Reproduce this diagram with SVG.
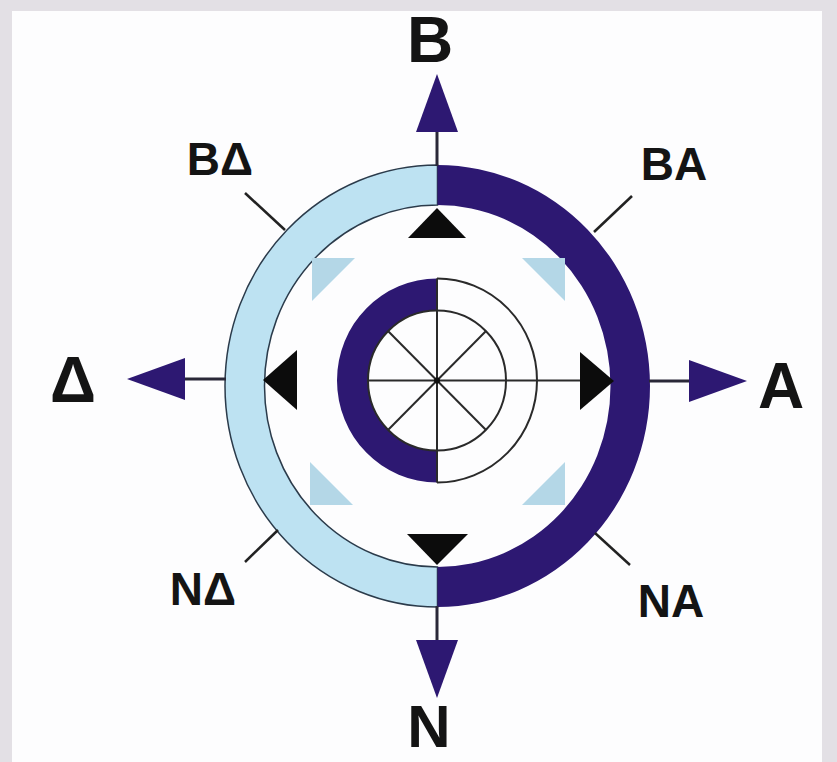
<svg xmlns="http://www.w3.org/2000/svg" width="837" height="762" viewBox="0 0 837 762">
<style>
.lbl{font-family:"Liberation Sans",Arial,sans-serif;font-weight:bold;fill:#141414;text-anchor:middle}
.big{font-size:64px}
.small{font-size:46px}
.thin{fill:none;stroke:#2a2a2a;stroke-width:2}
.axis{fill:none;stroke:#2a2838;stroke-width:3}
.tick{fill:none;stroke:#222;stroke-width:2.5}
.purple{fill:#2d1872}
.black{fill:#0c0c0c}
.pale{fill:#b4d7e7}
</style>
<defs>
<marker id="arr" viewBox="0 0 58 42" refX="0" refY="21" markerWidth="58" markerHeight="42" markerUnits="userSpaceOnUse" orient="auto">
<path d="M0,0 L58,21 L0,42 Z" fill="#2d1872"/>
</marker>
</defs>
<rect x="0" y="0" width="837" height="762" fill="#e3e0e5"/>
<rect x="12" y="11" width="810" height="751" fill="#fdfdfe"/>

<g id="outer-ring">
<path d="M437.5,165 A212.5 221 0 0 0 437.5,607 L437.5,567 A173 181 0 0 1 437.5,205 Z" fill="#bde2f2" stroke="#2b3b4b" stroke-width="1.5"/>
<path class="purple" d="M437.5,165 A212.5 221 0 0 1 437.5,607 L437.5,567 A173 181 0 0 0 437.5,205 Z"/>
</g>

<g id="inner-ring">
<path class="purple" d="M437,278.5 A100 102 0 0 0 437,482.5 L437,450.5 A69 70 0 0 1 437,310.5 Z"/>
<path class="thin" d="M437,278.5 A100 102 0 0 1 437,482.5"/>
<ellipse class="thin" cx="437" cy="380.5" rx="69" ry="70"/>
<line class="thin" x1="437" y1="278.5" x2="437" y2="482.5"/>
<line class="thin" x1="368" y1="380.5" x2="580" y2="380.5"/>
<line class="thin" x1="388" y1="331" x2="486" y2="430"/>
<line class="thin" x1="486" y1="331" x2="388" y2="430"/>
<circle cx="437" cy="380.5" r="3" fill="#111"/>
</g>

<g id="markers">
<polygon class="black" points="437,208 408,238 466,238"/>
<polygon class="black" points="437,565 407,534 468,534"/>
<polygon class="black" points="263,380 297,350 297,410"/>
<polygon class="black" points="614,381 580,352 580,410"/>
<polygon class="pale" points="312,258 355,258 312,301"/>
<polygon class="pale" points="522,258 565,258 565,301"/>
<polygon class="pale" points="310,462 310,505 353,505"/>
<polygon class="pale" points="565,462 565,505 522,505"/>
</g>

<g id="connectors">
<line class="axis" x1="437" y1="166" x2="437" y2="132" marker-end="url(#arr)"/>
<line class="axis" x1="437" y1="606" x2="437" y2="640" marker-end="url(#arr)"/>
<line class="axis" x1="226" y1="379" x2="185" y2="379" marker-end="url(#arr)"/>
<line class="axis" x1="649" y1="381" x2="689" y2="381" marker-end="url(#arr)"/>
<line class="tick" x1="245" y1="193" x2="285" y2="230"/>
<line class="tick" x1="632" y1="196" x2="594" y2="232"/>
<line class="tick" x1="245" y1="562" x2="278" y2="530"/>
<line class="tick" x1="595" y1="533" x2="630" y2="565"/>
</g>

<g id="label-B"><text class="lbl big" x="430" y="62">B</text></g>
<g id="label-N"><text class="lbl" x="429" y="747" font-size="60">N</text></g>
<g id="label-D"><text class="lbl big" x="73" y="402">Δ</text></g>
<g id="label-A"><text class="lbl big" x="781" y="408">A</text></g>
<g id="label-BD"><text class="lbl small" x="220" y="175">BΔ</text></g>
<g id="label-BA"><text class="lbl small" x="674" y="180">BA</text></g>
<g id="label-ND"><text class="lbl small" x="203" y="605">NΔ</text></g>
<g id="label-NA"><text class="lbl small" x="671" y="617">NA</text></g>
</svg>
